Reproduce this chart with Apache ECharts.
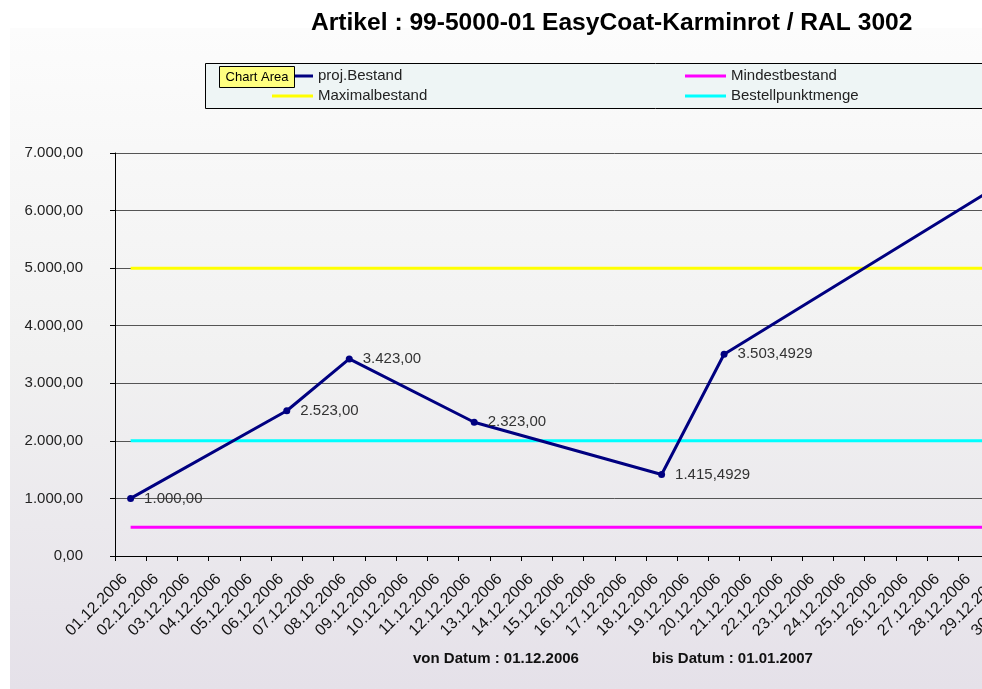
<!DOCTYPE html>
<html>
<head>
<meta charset="utf-8">
<script src="https://cdn.jsdelivr.net/npm/echarts@6/dist/echarts.min.js"></script>
<style>
  html, body { margin: 0; padding: 0; background: #ffffff; overflow: hidden; }
  /* the plot runs on past the right edge of the window, as in the exported sheet */
  #chart { width: 1120px; height: 689px; }
</style>
</head>
<body>
<div id="chart"></div>
<script>
// Stock projection for one article, December 2006
const dates = [
  '01.12.2006','02.12.2006','03.12.2006','04.12.2006','05.12.2006','06.12.2006',
  '07.12.2006','08.12.2006','09.12.2006','10.12.2006','11.12.2006','12.12.2006',
  '13.12.2006','14.12.2006','15.12.2006','16.12.2006','17.12.2006','18.12.2006',
  '19.12.2006','20.12.2006','21.12.2006','22.12.2006','23.12.2006','24.12.2006',
  '25.12.2006','26.12.2006','27.12.2006','28.12.2006','29.12.2006','30.12.2006',
  '31.12.2006','01.01.2007'
];

// projected stock: only booking days carry a value, the line bridges the gaps
const projBestand = [
  1000, null, null, null, null, 2523, null, 3423, null, null, null, 2323,
  null, null, null, null, null, 1415.4929, null, 3503.4929, null, null, null, null,
  null, null, null, null, 6503.4929, null, null, null
];

const mindestbestand = [
  500, 500, 500, 500, 500, 500, 500, 500, 500, 500, 500, 500, 500, 500, 500, 500,
  500, 500, 500, 500, 500, 500, 500, 500, 500, 500, 500, 500, 500, 500, 500, 500
];

const maximalbestand = [
  5000, 5000, 5000, 5000, 5000, 5000, 5000, 5000, 5000, 5000, 5000, 5000, 5000, 5000, 5000, 5000,
  5000, 5000, 5000, 5000, 5000, 5000, 5000, 5000, 5000, 5000, 5000, 5000, 5000, 5000, 5000, 5000
];

const bestellpunktmenge = [
  2000, 2000, 2000, 2000, 2000, 2000, 2000, 2000, 2000, 2000, 2000, 2000, 2000, 2000, 2000, 2000,
  2000, 2000, 2000, 2000, 2000, 2000, 2000, 2000, 2000, 2000, 2000, 2000, 2000, 2000, 2000, 2000
];

const yTicks = { min: 0, max: 7000, interval: 1000 };

const titleText = 'Artikel : 99-5000-01 EasyCoat-Karminrot / RAL 3002';
const vonText = 'von Datum : 01.12.2006';
const bisText = 'bis Datum : 01.01.2007';

// German number format: dot thousands, comma decimals, at least two decimals
function fmtDE(v) {
  const neg = v < 0;
  const s = String(Math.abs(v));
  let [ip, fp] = s.split('.');
  fp = fp || '';
  while (fp.length < 2) fp += '0';
  ip = ip.replace(/\B(?=(\d{3})+(?!\d))/g, '.');
  return (neg ? '-' : '') + ip + ',' + fp;
}

const FONT = '"Liberation Sans", Arial, sans-serif';

const chart = echarts.init(document.getElementById('chart'), null, { renderer: 'canvas' });

const legendText = { fontFamily: FONT, fontSize: 15, color: '#222' };
const legendBase = { padding: 0, icon: 'rect', itemWidth: 41, itemHeight: 3, textStyle: legendText, selectedMode: false };

chart.setOption({
  backgroundColor: '#ffffff',
  animation: false,
  title: {
    text: titleText,
    left: 306,
    top: 6,
    textStyle: { fontFamily: FONT, fontSize: 24.6, fontWeight: 'bold', color: '#000' }
  },
  legend: [
    Object.assign({ data: ['proj.Bestand'], left: 272, top: 68.5 }, legendBase),
    Object.assign({ data: ['Maximalbestand'], left: 272, top: 88.5 }, legendBase),
    Object.assign({ data: ['Mindestbestand'], left: 685, top: 68.5 }, legendBase),
    Object.assign({ data: ['Bestellpunktmenge'], left: 685, top: 88.5 }, legendBase)
  ],
  graphic: [
    {
      type: 'rect', z: -10, silent: true,
      shape: { x: 10, y: 28, width: 1110, height: 661 },
      style: {
        fill: new echarts.graphic.LinearGradient(0, 0, 0, 1, [
          { offset: 0, color: '#fcfcfc' },
          { offset: 0.5, color: '#f1f1f1' },
          { offset: 1, color: '#e5e1e9' }
        ])
      }
    },
    {
      type: 'rect', z: -5, silent: true,
      shape: { x: 205.5, y: 63.5, width: 900, height: 45 },
      style: { fill: '#eef5f5', stroke: '#000', lineWidth: 1 }
    },
    {
      type: 'rect', z: 100, silent: true,
      shape: { x: 219.5, y: 66.5, width: 75, height: 21 },
      style: { fill: '#ffff80', stroke: '#000', lineWidth: 1 }
    },
    {
      type: 'text', z: 101, silent: true, x: 257, y: 77,
      style: {
        text: 'Chart Area', fontFamily: FONT, fontSize: 13, fill: '#000',
        align: 'center', verticalAlign: 'middle'
      }
    },
    {
      type: 'text', x: 413, y: 659,
      style: { text: vonText, fontFamily: FONT, fontSize: 15, fontWeight: 'bold', fill: '#111', verticalAlign: 'middle' }
    },
    {
      type: 'text', x: 652, y: 659,
      style: { text: bisText, fontFamily: FONT, fontSize: 15, fontWeight: 'bold', fill: '#111', verticalAlign: 'middle' }
    }
  ],
  grid: { left: 115, right: 5.5, top: 153, bottom: 133, containLabel: false },
  xAxis: {
    type: 'category',
    data: dates,
    boundaryGap: true,
    axisLine: { lineStyle: { color: '#000', width: 1 } },
    axisTick: { show: true, interval: 0, length: 5, lineStyle: { color: '#000' } },
    axisLabel: {
      interval: 0, rotate: 45, margin: 15, padding: [0, 8, 0, 0],
      fontFamily: FONT, fontSize: 16, color: '#111'
    },
    splitLine: { show: false }
  },
  yAxis: {
    type: 'value',
    min: yTicks.min, max: yTicks.max, interval: yTicks.interval,
    axisLine: { show: true, lineStyle: { color: '#000', width: 1 } },
    axisTick: { show: true, length: 5, lineStyle: { color: '#000' } },
    axisLabel: {
      margin: 32, fontFamily: FONT, fontSize: 15, color: '#222',
      formatter: v => fmtDE(v)
    },
    splitLine: { show: true, lineStyle: { color: '#555', width: 1 } }
  },
  series: [
    {
      name: 'proj.Bestand', type: 'line', data: projBestand, connectNulls: true,
      color: '#000080', z: 5,
      symbol: 'circle', symbolSize: 7, showSymbol: true,
      lineStyle: { color: '#000080', width: 3 },
      itemStyle: { color: '#000080' },
      label: {
        show: true, position: 'right', distance: 10,
        fontFamily: FONT, fontSize: 15, color: '#333',
        formatter: p => fmtDE(p.value)
      }
    },
    {
      name: 'Mindestbestand', type: 'line', data: mindestbestand, color: '#ff00ff',
      symbol: 'none', lineStyle: { color: '#ff00ff', width: 3 }, z: 3
    },
    {
      name: 'Maximalbestand', type: 'line', data: maximalbestand, color: '#ffff00',
      symbol: 'none', lineStyle: { color: '#ffff00', width: 3 }, z: 3
    },
    {
      name: 'Bestellpunktmenge', type: 'line', data: bestellpunktmenge, color: '#00ffff',
      symbol: 'none', lineStyle: { color: '#00ffff', width: 3 }, z: 3
    }
  ]
});
</script>
</body>
</html>
